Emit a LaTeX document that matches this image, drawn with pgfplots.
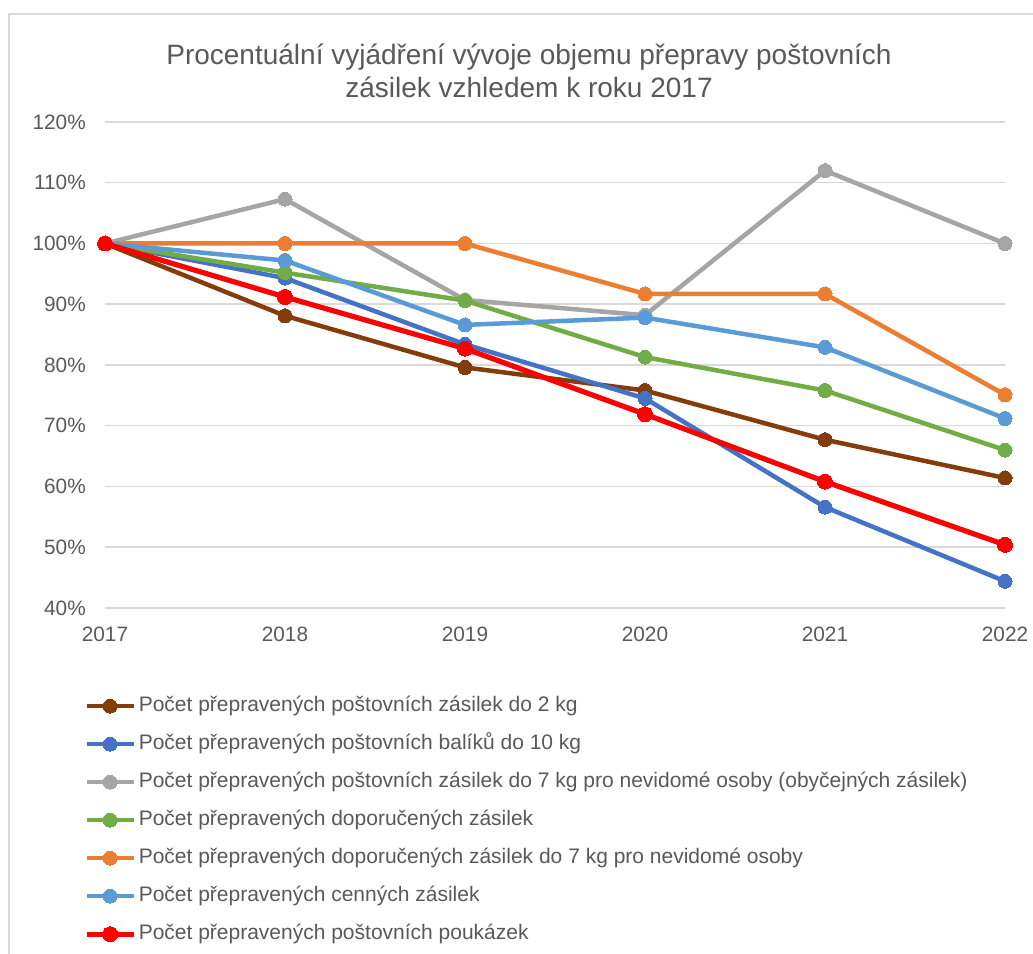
\documentclass[border=0pt]{standalone}
\usepackage{pgfplots}
\pgfplotsset{compat=1.18}
\usepackage{fontspec}
\setmainfont{Liberation Sans}
\definecolor{cBrown}{HTML}{843C0C}
\definecolor{cBlue}{HTML}{4472C4}
\definecolor{cGray}{HTML}{A5A5A5}
\definecolor{cGreen}{HTML}{70AD47}
\definecolor{cOrange}{HTML}{ED7D31}
\definecolor{cLBlue}{HTML}{5B9BD5}
\definecolor{cRed}{HTML}{FF0000}
\definecolor{gridc}{HTML}{D9D9D9}
\definecolor{txt}{HTML}{595959}
\begin{document}
\begin{tikzpicture}[x=1pt,y=1pt]
\useasboundingbox (0,0) rectangle (1033,953);
\fill[white] (0,0) rectangle (1033,953);
\draw[gridc, line width=1.5pt] (9,-2) -- (9,939) -- (1035,939);
\begin{axis}[
  at={(105pt,345pt)}, anchor=south west,
  scale only axis, width=900pt, height=486pt,
  xmin=2017, xmax=2022, ymin=40, ymax=120,
  xtick={2017,2018,2019,2020,2021,2022},
  ytick={40,50,60,70,80,90,100,110,120},
  ymajorgrids, major grid style={gridc, line width=1.5pt},
  axis line style={draw=none},
  major tick length=0pt, tick style={draw=none},
  /pgf/number format/assume math mode=true,
  ticklabel style={font=\fontsize{20.8}{24}\selectfont, text=txt, inner sep=0pt},
  yticklabel={\pgfmathprintnumber{\tick}\%},
  yticklabel style={xshift=-19pt},
  xticklabel style={/pgf/number format/1000 sep=, yshift=-19pt},
  clip=false,
  every axis plot/.append style={line width=4.5pt, line join=round},
  legend cell align=left,
  legend image code/.code={\draw[mark repeat=2,mark phase=2,#1] plot coordinates {(0pt,0pt)(23.5pt,0pt)(47pt,0pt)};},
  legend style={at={(-0.0235,-0.181)}, anchor=north west, draw=none, fill=none,
    inner sep=0pt, font=\fontsize{21}{24}\selectfont, text=txt, row sep=18pt, column sep=2.5pt,
    nodes={inner sep=0pt, text height=15pt, text depth=5pt}},
]
\addplot[cBrown, mark=*, mark size=7pt, mark options={line width=0pt, fill=cBrown}] coordinates {(2017,100)(2018,88.1)(2019,79.6)(2020,75.8)(2021,67.7)(2022,61.4)};
\addlegendentry{Počet přepravených poštovních zásilek do 2 kg}
\addplot[cBlue, mark=*, mark size=7pt, mark options={line width=0pt, fill=cBlue}] coordinates {(2017,100)(2018,94.3)(2019,83.4)(2020,74.5)(2021,56.6)(2022,44.4)};
\addlegendentry{Počet přepravených poštovních balíků do 10 kg}
\addplot[cGray, mark=*, mark size=7pt, mark options={line width=0pt, fill=cGray}] coordinates {(2017,100)(2018,107.3)(2019,90.7)(2020,88.2)(2021,112.0)(2022,100)};
\addlegendentry{Počet přepravených poštovních zásilek do 7 kg pro nevidomé osoby (obyčejných zásilek)}
\addplot[cGreen, mark=*, mark size=7pt, mark options={line width=0pt, fill=cGreen}] coordinates {(2017,100)(2018,95.2)(2019,90.6)(2020,81.3)(2021,75.8)(2022,66.0)};
\addlegendentry{Počet přepravených doporučených zásilek}
\addplot[cOrange, mark=*, mark size=7pt, mark options={line width=0pt, fill=cOrange}] coordinates {(2017,100)(2018,100)(2019,100)(2020,91.7)(2021,91.7)(2022,75.1)};
\addlegendentry{Počet přepravených doporučených zásilek do 7 kg pro nevidomé osoby}
\addplot[cLBlue, mark=*, mark size=7pt, mark options={line width=0pt, fill=cLBlue}] coordinates {(2017,100)(2018,97.2)(2019,86.6)(2020,87.8)(2021,82.9)(2022,71.2)};
\addlegendentry{Počet přepravených cenných zásilek}
\addplot[cRed, line width=5.2pt, mark=*, mark size=7.5pt, mark options={line width=0pt, fill=cRed}] coordinates {(2017,100)(2018,91.2)(2019,82.7)(2020,71.9)(2021,60.8)(2022,50.4)};
\addlegendentry{Počet přepravených poštovních poukázek}
\end{axis}
\node[anchor=base, text=txt, font=\fontsize{28}{32}\selectfont, inner sep=0pt] at (529,888.5) {Procentuální vyjádření vývoje objemu přepravy poštovních};
\node[anchor=base, text=txt, font=\fontsize{28}{32}\selectfont, inner sep=0pt] at (529,855) {zásilek vzhledem k roku 2017};
\end{tikzpicture}
\end{document}
